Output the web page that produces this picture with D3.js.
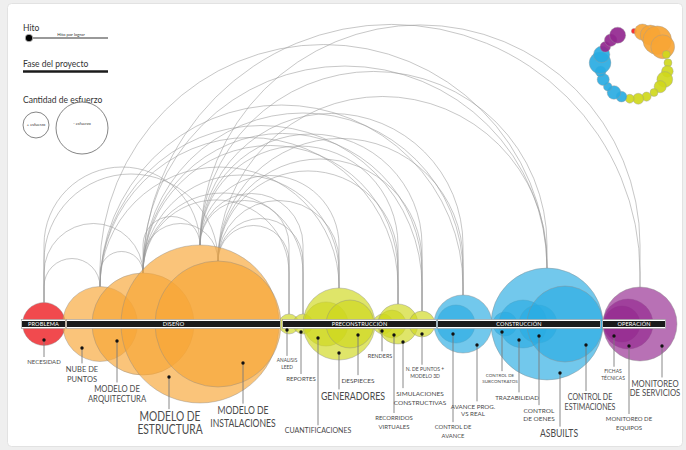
<!DOCTYPE html>
<html><head><meta charset="utf-8">
<script src="https://cdn.jsdelivr.net/npm/d3@7"></script>
<style>
html,body{margin:0;padding:0;background:#efefef;}
svg{display:block;font-family:Lato,"Open Sans",sans-serif;}
</style></head>
<body>
<svg id="c" width="686" height="450"></svg>
<script>
// ---------------- DATA ----------------
const phases      = ["PROBLEMA","DISEÑO","PRECONSTRUCCIÓN","CONSTRUCCIÓN","OPERACIÓN"];
const phaseStart  = [0, 45, 261, 416, 581];
const phaseEnd    = [43, 258, 414, 578, 643];
const phaseColors = ["#f0363b","#f7a535","#cfd81c","#29abe2","#93278f"];

const uses = ["NECESIDAD","NUBE DE|PUNTOS","MODELO DE|ARQUITECTURA","MODELO DE|ESTRUCTURA","MODELO DE|INSTALACIONES",
  "ANALISIS|LEED","REPORTES","CUANTIFICACIONES","GENERADORES","DESPIECES","RENDERS","RECORRIDOS|VIRTUALES",
  "SIMULACIONES|CONSTRUCTIVAS","N. DE PUNTOS +|MODELO 3D","CONTROL DE|AVANCE","AVANCE PROG.|VS REAL",
  "CONTROL DE|SUBCONTRATOS","TRAZABILIDAD","CONTROL|DE OENES","ASBUILTS","CONTROL DE|ESTIMACIONES",
  "FICHAS|TÉCNICAS","MONITOREO DE|EQUIPOS","MONITOREO|DE SERVICIOS"];
const usePhase  = [0,1,1,1,1,2,2,2,2,2,2,2,2,2,3,3,3,3,3,3,3,4,4,4];
const useTime   = [22,78,121,178,196,267,281,304,317,328,361,370,376,400,434,441,483,501,516,525,543,600,606,618];
const useEffort = [7.4,22.5,41.7,100,63.6,1.6,1.6,7.8,20.8,9.2,1.6,3.1,6.4,2.7,5.8,13.5,2.3,9.2,5.8,50.2,23.1,5.2,10,21.9];

// links: [source index, target index]
const linkSource = [0,0,0,0,1,2,2, 2,3,4, 2,3,4, 1,2,3,4, 2,1,3,4, 1,2,3,4, 1,2,3,4, 1,2,3,4, 2,3];
const linkTarget = [1,2,3,4,2,3,4, 5,5,5, 6,6,6, 8,8,8,8, 12,12,12,12, 13,13,13,13, 15,15,15,15, 19,19,19,19, 23,23];

// annotation layout (dot timeline position, dot drop below axis, label centre, label drop, font size, line height)
const dotTime   = [22,60,95,147,221,265,279,296,317,336,360,372,381,400,431,455,480,497,517,538,564,592,607,640];
const dotDrop   = [16,24,17,53,39,6,8,14,29,11,7,11,18,10,10,21,8,16,12,49,21,12,22,22];
const labelTime = [22,60,95,148,221,265,279,296,331,336,358,372,398,403,431,451,478,495,517,537,568,591,607,633];
const labelDrop = [40,47.5,68,97,90,38,57,109,76,58.5,34,96,71.5,47,105,84.5,53,75.5,88.5,113,76,49,97,63];
const labelSize = [6,7.5,9.4,12.5,10.5,4.8,6,7,10.8,6.5,5.5,6,6.5,5,5.8,6.2,4.5,6.2,6.5,10.5,8.6,5,6,9.4];
const labelLead = [7,10,10,13,13,7,7,8,12,7,7,9,9,7,8.5,7.5,6,8,8,12,10,7,9,9.5];

// ---------------- CHART ----------------
const svg = d3.select("#c");
const W = 686, H = 450, axisY = 324;
const x = d3.scaleLinear().domain([0, 643]).range([22, 665]);
const r = d3.scaleSqrt().domain([0, 100]).range([0, 79]);
const fillColor = d3.scaleOrdinal().domain(d3.range(5)).range(phaseColors);

// panel
svg.append("rect").attr("x",0).attr("y",0).attr("width",W).attr("height",H).attr("fill","#efefef");
svg.append("rect").attr("x",7.5).attr("y",3.5).attr("width",675).attr("height",443).attr("rx",4)
  .attr("fill","#fff").attr("stroke","#e2e2e2");

const nodes = uses.map((u,i)=>({name:u, phase:usePhase[i], cx:x(useTime[i]), r:r(useEffort[i])}));
nodes.forEach(n=>n.top = axisY - n.r);

// arcs
const links = linkSource.map((s,i)=>({s:nodes[s], t:nodes[linkTarget[i]]}));
svg.append("g").selectAll("path").data(links).join("path")
  .attr("fill","none").attr("stroke","#999").attr("stroke-width",0.55)
  .attr("d", d=>{
    const a = d.s.cx < d.t.cx ? d.s : d.t, b = d.s.cx < d.t.cx ? d.t : d.s;
    const base = Math.min(a.top, b.top), R = (b.cx - a.cx)/2;
    const p = d3.path();
    p.moveTo(a.cx, a.top); p.lineTo(a.cx, base);
    p.arc((a.cx+b.cx)/2, base, R, Math.PI, 2*Math.PI);
    p.lineTo(b.cx, b.top);
    return p.toString();
  });

// circles
svg.append("g").selectAll("circle").data(nodes).join("circle")
  .attr("cx",d=>d.cx).attr("cy",axisY).attr("r",d=>d.r)
  .attr("fill",d=>fillColor(d.phase)).attr("fill-opacity",d=>d.phase===0?0.9:0.66)
  .attr("stroke","#8a8a8a").attr("stroke-width",0.5).attr("stroke-opacity",0.8);

// phase bar
const pb = svg.append("g");
phases.forEach((p,i)=>{
  const x0 = x(phaseStart[i]), x1 = x(phaseEnd[i]);
  pb.append("rect").attr("x",x0-0.5).attr("y",axisY-4.5).attr("width",x1-x0+1).attr("height",9)
    .attr("fill","#fff").attr("stroke","#9a9a9a").attr("stroke-width",0.6);
  pb.append("rect").attr("x",x0).attr("y",axisY-3).attr("width",x1-x0).attr("height",6).attr("fill","#1b1b1b");
  pb.append("text").attr("x",(x0+x1)/2).attr("y",axisY+2).attr("text-anchor","middle")
    .attr("font-size",5.6).attr("fill","#fff").attr("letter-spacing",0.1).text(p);
});

// dots, leaders, labels
const ann = svg.append("g");
nodes.forEach((n,i)=>{
  const dx = x(dotTime[i]), dy = axisY + dotDrop[i];
  const lx = x(labelTime[i]), ly = axisY + labelDrop[i], fs = labelSize[i];
  const sq = fs >= 8 ? 0.82 : 1;
  ann.append("line").attr("x1",dx).attr("y1",dy).attr("x2",dx).attr("y2",ly - fs*0.75 - 2.5)
    .attr("stroke","#7a7a7a").attr("stroke-width",0.9);
  ann.append("circle").attr("cx",dx).attr("cy",dy).attr("r",1.7).attr("fill","#111");
  const t = ann.append("text").attr("text-anchor","middle").attr("font-size",fs).attr("fill","#4a4a4a")
    .attr("transform",`translate(${lx},${ly}) scale(${sq},1)`);
  n.name.split("|").forEach((line,k)=>{
    t.append("tspan").attr("x",0).attr("y",k*labelLead[i]).text(line);
  });
});

// legend
const lg = svg.append("g").attr("fill","#333");
lg.append("text").attr("x",23).attr("y",30.5).attr("font-size",8.5).text("Hito");
lg.append("line").attr("x1",29).attr("y1",38).attr("x2",108).attr("y2",38).attr("stroke","#777").attr("stroke-width",1.3);
lg.append("circle").attr("cx",29).attr("cy",38).attr("r",3.8).attr("fill","#000").attr("stroke","#ccc").attr("stroke-width",0.8);
lg.append("text").attr("x",71).attr("y",35.5).attr("font-size",4.3).attr("text-anchor","middle").text("Hito por lograr");
lg.append("text").attr("x",23).attr("y",67).attr("font-size",8.5).text("Fase del proyecto");
lg.append("line").attr("x1",23).attr("y1",71.5).attr("x2",108).attr("y2",71.5).attr("stroke","#1b1b1b").attr("stroke-width",2.6);
lg.append("text").attr("x",23).attr("y",103).attr("font-size",8.5).text("Cantidad de esfuerzo");
lg.append("circle").attr("cx",36).attr("cy",125).attr("r",13).attr("fill","#fff").attr("stroke","#666").attr("stroke-width",0.8);
lg.append("text").attr("x",36).attr("y",126).attr("font-size",4).attr("text-anchor","middle").text("+ esfuerzo");
lg.append("circle").attr("cx",82).attr("cy",128).attr("r",26).attr("fill","#fff").attr("stroke","#666").attr("stroke-width",0.8);
lg.append("text").attr("x",82).attr("y",125).attr("font-size",4).attr("text-anchor","middle").text("- esfuerzo");

// ring overview (top right): one node per equal angular step, clockwise from the top
const ringC = [634, 65], ringR = 34;
const rr = d3.scaleLinear().domain([0,79]).range([2.5,14.3]);
const ang = d3.scaleLinear().domain([0, nodes.length]).range([0, 2*Math.PI*0.96]);
const ringNodes = nodes.map((n,i)=>({phase:n.phase, i, rad: i===0 ? 2.6 : rr(n.r)}));
svg.append("g").selectAll("circle").data(ringNodes).join("circle")
  .attr("cx",d=>ringC[0] + ringR*Math.sin(ang(d.i)))
  .attr("cy",d=>ringC[1] - ringR*Math.cos(ang(d.i)))
  .attr("r",d=>d.rad)
  .attr("fill",d=> d.i===0 ? "#ff1a1a" : fillColor(d.phase)).attr("fill-opacity",0.92)
  .attr("stroke","#9a9a9a").attr("stroke-width",0.4);
</script>
</body></html>
